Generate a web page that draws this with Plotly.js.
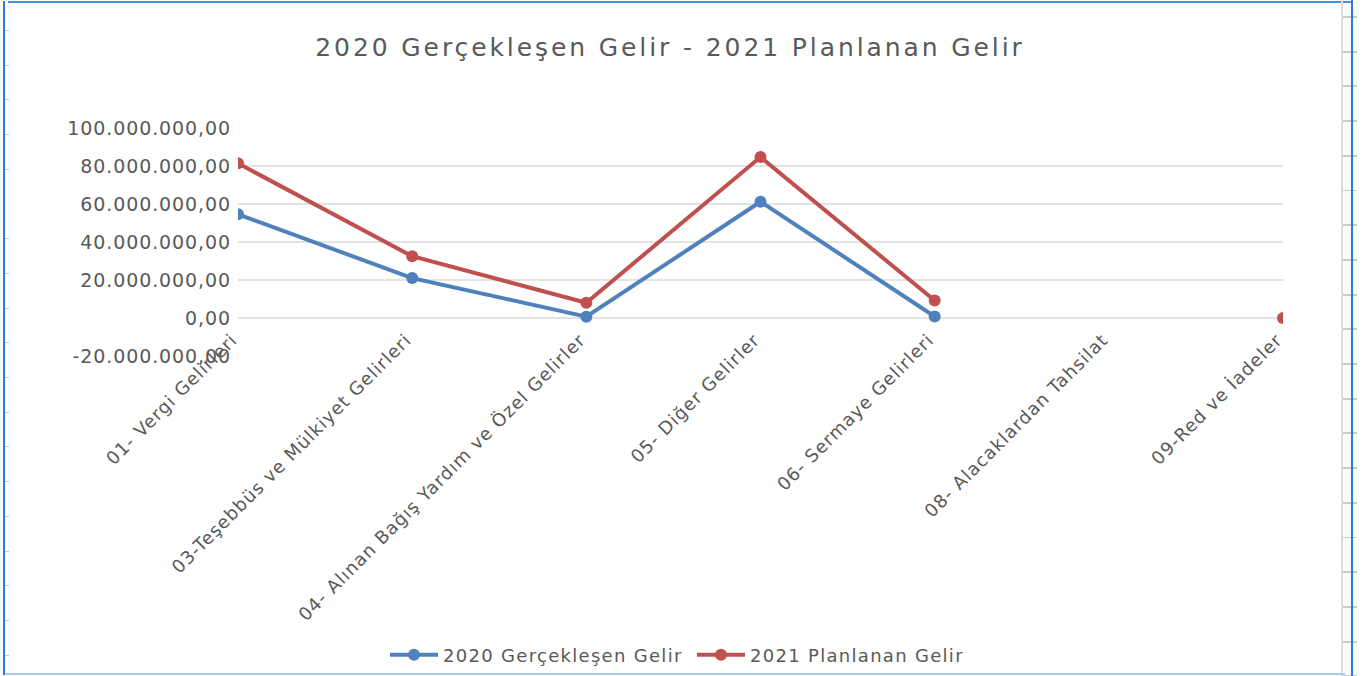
<!DOCTYPE html>
<html>
<head>
<meta charset="utf-8">
<script src="https://cdn.plot.ly/plotly-3.0.1.min.js"></script>
<style>
  html, body { margin: 0; padding: 0; background: #ffffff; overflow: hidden; }
  #wrap { position: relative; width: 1368px; height: 676px; }
  #chart { position: absolute; left: 0; top: 0; width: 1368px; height: 676px; }
  .frame { position: absolute; pointer-events: none; }
  .gtitle { letter-spacing: 2.9px; }
  .xtick text { letter-spacing: 1px; }
  .ytick text { letter-spacing: 0.9px; }
  .legendtext { letter-spacing: 1.3px; }
</style>
</head>
<body>
<div id="wrap">
  <div id="chart"></div>
  <!-- spreadsheet frame -->
  <div class="frame" style="left:3px;top:1px;width:2px;height:674px;background:#2f7ad6;"></div>
  <div class="frame" style="left:5px;top:1px;width:4px;height:674px;background:repeating-linear-gradient(to bottom, transparent 0px, transparent 29px, #c8c8c8 29px, #c8c8c8 30px, transparent 30px, transparent 34.7px);"></div>
  <div class="frame" style="left:8px;top:1px;width:1345px;height:2px;background:#4a8fe0;"></div>
  <div class="frame" style="left:1341px;top:0px;width:2px;height:676px;background:#dcdcdc;"></div>
  <div class="frame" style="left:1343px;top:0px;width:14px;height:676px;background:repeating-linear-gradient(to bottom, transparent 0px, transparent 16px, #c8c8c8 16px, #c8c8c8 18px, transparent 18px, transparent 34.7px);"></div>
  <div class="frame" style="left:1351px;top:0px;width:2px;height:676px;background:#2f7ad6;"></div>
  <div class="frame" style="left:5px;top:673px;width:1340px;height:2px;background:#a9c8ea;"></div>
</div>
<script>
// ---- data ----
const categories = [
  "01- Vergi Gelirleri",
  "03-Teşebbüs ve Mülkiyet Gelirleri",
  "04- Alınan Bağış Yardım ve Özel Gelirler",
  "05- Diğer Gelirler",
  "06- Sermaye Gelirleri",
  "08- Alacaklardan Tahsilat",
  "09-Red ve İadeler"
];
const seriesNames = ["2020 Gerçekleşen Gelir", "2021 Planlanan Gelir"];
const gelir2020 = [54600000, 21000000, 700000, 61200000, 800000, null, null];
const gelir2021 = [81400000, 32500000, 8000000, 84700000, 9200000, null, 0];
const yTickVals = [-20000000, 0, 20000000, 40000000, 60000000, 80000000, 100000000];
const yTickText = ["-20.000.000,00", "0,00", "20.000.000,00", "40.000.000,00", "60.000.000,00", "80.000.000,00", "100.000.000,00"];
const chartTitle = "2020 Gerçekleşen Gelir - 2021 Planlanan Gelir";

const FONT = "DejaVu Sans, Verdana, sans-serif";
const TXT = "#595959";

const traces = [
  {
    type: "scatter", mode: "lines+markers", name: seriesNames[0],
    x: categories, y: gelir2020, connectgaps: false,
    line: { color: "#4f81bd", width: 4 },
    marker: { color: "#4f81bd", size: 12 }
  },
  {
    type: "scatter", mode: "lines+markers", name: seriesNames[1],
    x: categories, y: gelir2021, connectgaps: false,
    line: { color: "#c0504d", width: 4 },
    marker: { color: "#c0504d", size: 12 }
  }
];

const layout = {
  width: 1368, height: 676,
  paper_bgcolor: "rgba(0,0,0,0)", plot_bgcolor: "rgba(0,0,0,0)",
  margin: { l: 238, r: 85, t: 128, b: 320, autoexpand: false },
  font: { family: FONT, color: TXT, size: 18 },
  title: {
    text: chartTitle,
    font: { family: FONT, size: 25, color: TXT },
    x: 670 / 1368, xanchor: "center", xref: "container",
    y: 1 - 47 / 676, yanchor: "middle", yref: "container"
  },
  xaxis: {
    type: "category", range: [0, 6],
    showgrid: false, zeroline: false, showline: false,
    ticks: "", tickangle: -45,
    tickfont: { family: FONT, size: 18, color: TXT },
    ticklabelstandoff: -31,
    ticklabelshift: -6,
    fixedrange: true
  },
  yaxis: {
    range: [-20000000, 100000000],
    tickmode: "array", tickvals: yTickVals, ticktext: yTickText,
    showgrid: true, gridcolor: "#e3e3e3", gridwidth: 2,
    zeroline: false, showline: false, ticks: "",
    tickfont: { family: FONT, size: 19, color: TXT },
    ticklabelstandoff: 6,
    fixedrange: true
  },
  showlegend: true,
  legend: {
    orientation: "h",
    xref: "container", x: 403 / 1368, xanchor: "left",
    yref: "container", y: 1 - 655 / 676, yanchor: "middle",
    font: { family: FONT, size: 18, color: TXT },
    entrywidth: 262, entrywidthmode: "pixels",
    tracegroupgap: 0
  }
};

Plotly.newPlot("chart", traces, layout, { displayModeBar: false, staticPlot: true }).then(function (gd) {
  // Longer legend line samples, like the spreadsheet legend
  gd.querySelectorAll(".legend [clip-path]").forEach(function (el) {
    el.removeAttribute("clip-path");
  });
  gd.querySelectorAll(".legend .legendlines path").forEach(function (p) {
    p.setAttribute("d", "M-13,0h48");
  });
  gd.querySelectorAll(".legend .legendpoints path").forEach(function (p) {
    p.setAttribute("transform", "translate(11,0)");
  });
});
</script>
</body>
</html>
